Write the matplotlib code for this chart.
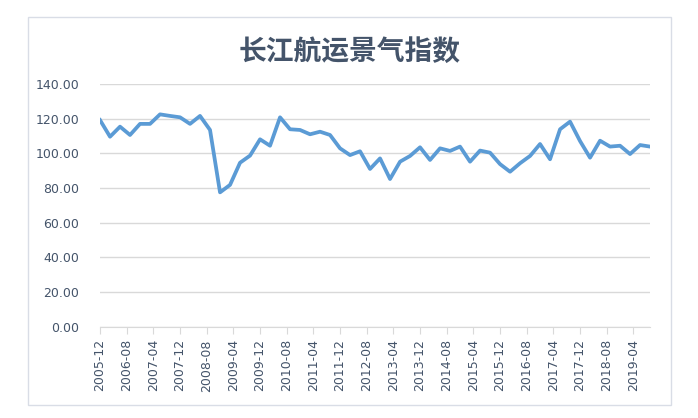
import matplotlib
matplotlib.use('Agg')
import matplotlib.pyplot as plt
from matplotlib.patches import Rectangle
import pandas as pd

plt.rcParams['font.family'] = ['DejaVu Sans', 'Noto Sans CJK SC']

# quarterly data, 2005-12 .. 2019-09
dates = pd.period_range('2005-12', '2019-09', freq='3M')
index_values = [119.2, 109.6, 115.4, 110.6, 117.0, 117.0, 122.5, 121.6, 120.8, 117.0,
                121.6, 113.5, 77.5, 81.8, 94.6, 98.7, 108.1, 104.4, 120.8, 113.9,
                113.5, 111.0, 112.5, 110.6, 102.9, 99.0, 101.2, 91.0, 97.1, 85.2,
                95.2, 98.5, 103.5, 96.2, 102.9, 101.4, 103.9, 95.2, 101.6, 100.4,
                93.8, 89.4, 94.3, 98.5, 105.4, 96.6, 113.9, 118.3, 107.1, 97.5,
                107.3, 103.9, 104.4, 99.6, 104.8, 103.9]

tick_labels = ['2005-12', '2006-08', '2007-04', '2007-12', '2008-08', '2009-04',
               '2009-12', '2010-08', '2011-04', '2011-12', '2012-08', '2013-04',
               '2013-12', '2014-08', '2015-04', '2015-12', '2016-08', '2017-04',
               '2017-12', '2018-08', '2019-04']

start = dates[0]
x = [(d - start).n for d in dates]
tick_x = [(pd.Period(t, freq='M') - pd.Period('2005-12', freq='M')).n for t in tick_labels]

fig = plt.figure(figsize=(6.98, 4.18), dpi=100)
ax = fig.add_axes([0.1433, 0.2184, 0.788, 0.5806])

ax.plot(x, index_values, color='#5B9BD5', lw=2.7, solid_joinstyle='round')

ax.set_xlim(0, x[-1])
ax.set_ylim(0, 140)
ax.set_yticks(range(0, 141, 20))
ax.set_yticklabels(['%.2f' % v for v in range(0, 141, 20)])
ax.set_xticks(tick_x)
ax.set_xticklabels(tick_labels, rotation=90)

ax.grid(axis='y', color='#d9d9d9', lw=1)
ax.set_axisbelow(True)
for s in ['top', 'right', 'left']:
    ax.spines[s].set_visible(False)
ax.spines['bottom'].set_color('#d9d9d9')
ax.tick_params(axis='y', length=0, labelsize=9, labelcolor='#44546A', pad=15)
ax.tick_params(axis='x', length=5, color='#d9d9d9', labelsize=9, labelcolor='#44546A', pad=4)

fig.text(0.5015, 0.875, '长江航运景气指数', ha='center', va='center', fontsize=20,
         fontweight='bold', color='#44546A', family=['Noto Sans CJK SC', 'DejaVu Sans'])

# chart border
fig.patches.append(Rectangle((28 / 698, 1 - 405 / 418), (671 - 28) / 698, (405 - 17) / 418,
                             transform=fig.transFigure, fill=False, ec='#d9dde6', lw=1))

plt.savefig('out.png', dpi=100)
